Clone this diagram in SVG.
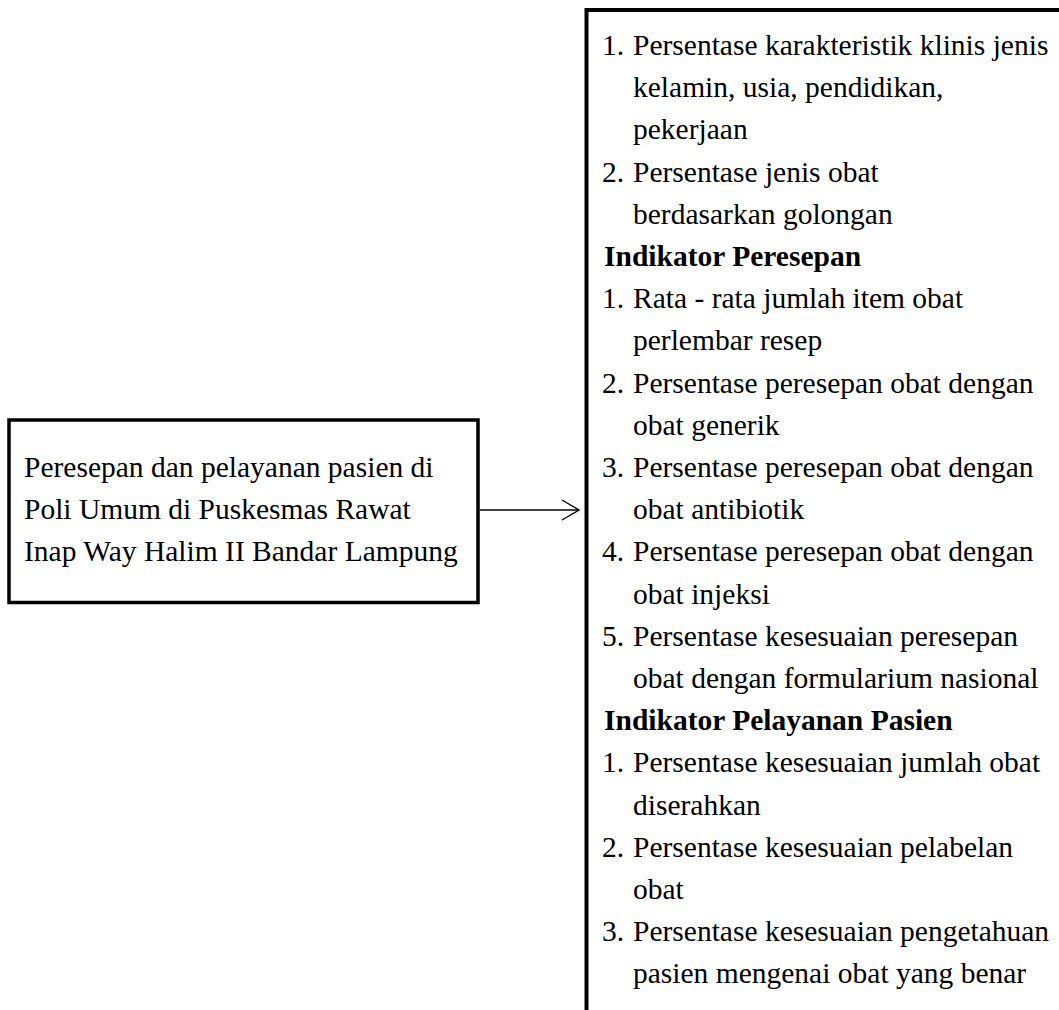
<svg xmlns="http://www.w3.org/2000/svg" width="1059" height="1010" viewBox="0 0 1059 1010">
<defs>
<style>
text{font-family:"Liberation Serif","Times New Roman",serif;font-size:29.5px;fill:#000}
.b{font-weight:bold}
.box{fill:none;stroke:#000}
.conn{fill:none;stroke:#000;stroke-width:1.3}
</style>
<marker id="arr" viewBox="0 0 20 24" refX="19" refY="12" markerWidth="20" markerHeight="24" markerUnits="userSpaceOnUse" orient="auto">
<path d="M2,2 L19,12 L2,22" fill="none" stroke="#000" stroke-width="1.3"/>
</marker>
</defs>
<rect width="1059" height="1010" fill="#fff"/>
<g id="node-source">
<rect class="box" x="9" y="420" width="469" height="182.5" stroke-width="3.5"/>
<text x="24" y="477">Peresepan dan pelayanan pasien di</text>
<text x="24" y="519">Poli Umum di Puskesmas Rawat</text>
<text x="24" y="561">Inap Way Halim II Bandar Lampung</text>
</g>
<g id="node-indicators">
<rect class="box" x="586.5" y="10" width="600" height="1100" stroke-width="4"/>
<text x="602" y="55">1.</text><text x="633" y="55">Persentase karakteristik klinis jenis</text>
<text x="633" y="97">kelamin, usia, pendidikan,</text>
<text x="633" y="139">pekerjaan</text>
<text x="602" y="182">2.</text><text x="633" y="182">Persentase jenis obat</text>
<text x="633" y="224">berdasarkan golongan</text>
<text class="b" x="604" y="266">Indikator Peresepan</text>
<text x="602" y="308">1.</text><text x="633" y="308">Rata - rata jumlah item obat</text>
<text x="633" y="350">perlembar resep</text>
<text x="602" y="393">2.</text><text x="633" y="393">Persentase peresepan obat dengan</text>
<text x="633" y="435">obat generik</text>
<text x="602" y="477">3.</text><text x="633" y="477">Persentase peresepan obat dengan</text>
<text x="633" y="519">obat antibiotik</text>
<text x="602" y="561">4.</text><text x="633" y="561">Persentase peresepan obat dengan</text>
<text x="633" y="604">obat injeksi</text>
<text x="602" y="646">5.</text><text x="633" y="646">Persentase kesesuaian peresepan</text>
<text x="633" y="688">obat dengan formularium nasional</text>
<text class="b" x="604" y="730">Indikator Pelayanan Pasien</text>
<text x="602" y="772">1.</text><text x="633" y="772">Persentase kesesuaian jumlah obat</text>
<text x="633" y="815">diserahkan</text>
<text x="602" y="857">2.</text><text x="633" y="857">Persentase kesesuaian pelabelan</text>
<text x="633" y="899">obat</text>
<text x="602" y="941">3.</text><text x="633" y="941">Persentase kesesuaian pengetahuan</text>
<text x="633" y="983">pasien mengenai obat yang benar</text>
</g>
<g id="connectors">
<line class="conn" x1="479.5" y1="510" x2="579" y2="510" marker-end="url(#arr)"/>
</g>
</svg>
